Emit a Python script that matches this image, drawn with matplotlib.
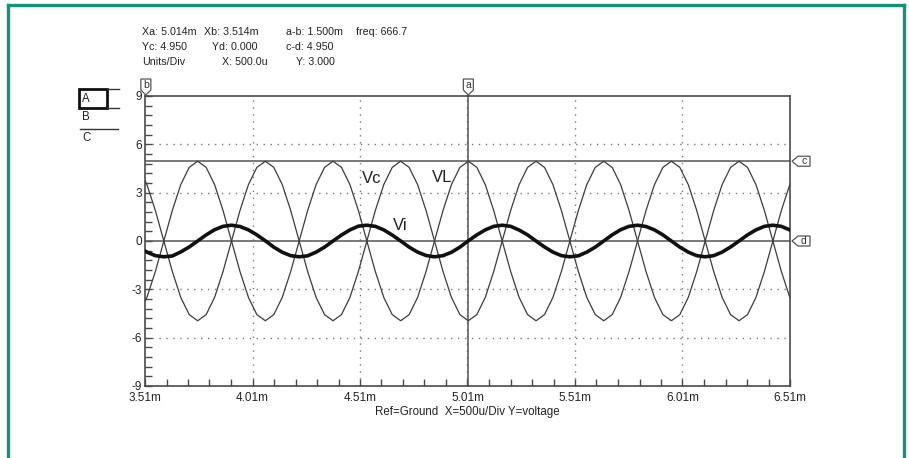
import matplotlib
matplotlib.use('Agg')
import matplotlib.pyplot as plt
from matplotlib.patches import Polygon, Rectangle
from matplotlib.lines import Line2D
from matplotlib.ticker import MultipleLocator

plt.rcParams['font.family'] = ['Liberation Sans', 'DejaVu Sans']

# sample times (ms)
t_ms = [3.4796, 3.5189, 3.5583, 3.5976, 3.6370, 3.6763, 3.7157, 3.7550,
        3.7944, 3.8337, 3.8730, 3.9124, 3.9517, 3.9911, 4.0304, 4.0698,
        4.1091, 4.1484, 4.1878, 4.2271, 4.2665, 4.3058, 4.3452, 4.3845,
        4.4239, 4.4632, 4.5025, 4.5419, 4.5812, 4.6206, 4.6599, 4.6993,
        4.7386, 4.7779, 4.8173, 4.8566, 4.8960, 4.9353, 4.9747, 5.0140,
        5.0534, 5.0927, 5.1320, 5.1714, 5.2107, 5.2501, 5.2894, 5.3288,
        5.3681, 5.4074, 5.4468, 5.4861, 5.5255, 5.5648, 5.6042, 5.6435,
        5.6829, 5.7222, 5.7615, 5.8009, 5.8402, 5.8796, 5.9189, 5.9583,
        5.9976, 6.0369, 6.0763, 6.1156, 6.1550, 6.1943, 6.2337, 6.2730,
        6.3124, 6.3517, 6.3910, 6.4304, 6.4697, 6.5091, 6.5484]

v_l = [-4.57, -3.50, -1.89, 0.00, 1.89, 3.50, 4.57, 4.95, 4.57, 3.50, 1.89, 0.00, -1.89, -3.50, -4.57, -4.95,
       -4.57, -3.50, -1.89, 0.00, 1.89, 3.50, 4.57, 4.95, 4.57, 3.50, 1.89, 0.00, -1.89, -3.50, -4.57, -4.95,
       -4.57, -3.50, -1.89, 0.00, 1.89, 3.50, 4.57, 4.95, 4.57, 3.50, 1.89, 0.00, -1.89, -3.50, -4.57, -4.95,
       -4.57, -3.50, -1.89, 0.00, 1.89, 3.50, 4.57, 4.95, 4.57, 3.50, 1.89, 0.00, -1.89, -3.50, -4.57, -4.95,
       -4.57, -3.50, -1.89, 0.00, 1.89, 3.50, 4.57, 4.95, 4.57, 3.50, 1.89, 0.00, -1.89, -3.50, -4.57]

v_c = [4.57, 3.50, 1.89, 0.00, -1.89, -3.50, -4.57, -4.95, -4.57, -3.50, -1.89, 0.00, 1.89, 3.50, 4.57, 4.95,
       4.57, 3.50, 1.89, 0.00, -1.89, -3.50, -4.57, -4.95, -4.57, -3.50, -1.89, 0.00, 1.89, 3.50, 4.57, 4.95,
       4.57, 3.50, 1.89, 0.00, -1.89, -3.50, -4.57, -4.95, -4.57, -3.50, -1.89, 0.00, 1.89, 3.50, 4.57, 4.95,
       4.57, 3.50, 1.89, 0.00, -1.89, -3.50, -4.57, -4.95, -4.57, -3.50, -1.89, 0.00, 1.89, 3.50, 4.57, 4.95,
       4.57, 3.50, 1.89, 0.00, -1.89, -3.50, -4.57, -4.95, -4.57, -3.50, -1.89, 0.00, 1.89, 3.50, 4.57]

v_i = [-0.38, -0.69, -0.91, -0.98, -0.93, -0.68, -0.37, 0.00, 0.38, 0.70, 0.91, 0.98, 0.90, 0.69, 0.38, 0.01,
       -0.38, -0.70, -0.91, -0.98, -0.92, -0.69, -0.38, 0.00, 0.37, 0.69, 0.92, 0.98, 0.91, 0.69, 0.37, 0.00,
       -0.38, -0.69, -0.90, -0.98, -0.91, -0.70, -0.38, 0.01, 0.38, 0.69, 0.91, 0.98, 0.91, 0.68, 0.38, 0.00,
       -0.37, -0.69, -0.91, -0.98, -0.92, -0.69, -0.38, 0.00, 0.38, 0.70, 0.91, 0.98, 0.90, 0.69, 0.38, 0.00,
       -0.38, -0.69, -0.91, -0.98, -0.91, -0.69, -0.37, 0.00, 0.38, 0.69, 0.91, 0.98, 0.91, 0.69, 0.38]

x_ticks = [3.51, 4.01, 4.51, 5.01, 5.51, 6.01, 6.51]
x_tick_labels = ['3.51m', '4.01m', '4.51m', '5.01m', '5.51m', '6.01m', '6.51m']
y_ticks = [-9, -6, -3, 0, 3, 6, 9]
y_tick_labels = ['-9', '-6', '-3', '0', '3', '6', '9']

cursor_a = 5.014
cursor_b = 3.514
cursor_c = 4.950
cursor_d = 0.000

W, H = 909, 458
GREEN = '#119477'
TRACE = '#3c3c3c'
FRAME = '#4a4a4a'
TXT = '#222222'

fig = plt.figure(figsize=(W / 100, H / 100), dpi=100)
ax = fig.add_axes([145 / W, 1 - 386 / H, 645 / W, 290 / H])
ax.set_xlim(3.51, 6.51)
ax.set_ylim(-9, 9)


def px(x, y):
    # pixel position (top-left origin) -> figure fraction
    return x / W, 1 - y / H


# dotted grid
for xv in x_ticks[1:-1]:
    ax.axvline(xv, color='#777777', lw=1.0, ls=(0, (1, 4)), zorder=1)
for yv in y_ticks[1:-1]:
    if yv != 0:
        ax.axhline(yv, color='#777777', lw=1.0, ls=(0, (1, 4)), zorder=1)

# cursor lines
ax.axhline(cursor_c, color='#555555', lw=1.1, zorder=2)
ax.axhline(cursor_d, color='#555555', lw=1.1, zorder=2)
ax.plot([cursor_a, cursor_a], [0, 1.03], color='#555555', lw=1.1,
        transform=ax.get_xaxis_transform(), clip_on=False, zorder=2)

# traces
ax.plot(t_ms, v_c, color=TRACE, lw=0.9, zorder=3)
ax.plot(t_ms, v_l, color=TRACE, lw=0.9, zorder=3)
ax.plot(t_ms, v_i, color='#111111', lw=2.6, zorder=4)

ax.text(4.518, 3.85, 'Vc', fontsize=12, color=TXT, va='center', ha='left', zorder=5)
ax.text(4.843, 3.97, 'VL', fontsize=12, color=TXT, va='center', ha='left', zorder=5)
ax.text(4.662, 0.98, 'Vi', fontsize=12, color=TXT, va='center', ha='left', zorder=5)

# axes styling
for s in ax.spines.values():
    s.set_color(FRAME)
    s.set_linewidth(1.2)
ax.set_xticks(x_ticks)
ax.set_xticklabels(x_tick_labels)
ax.set_yticks(y_ticks)
ax.set_yticklabels(y_tick_labels)
ax.xaxis.set_minor_locator(MultipleLocator(0.1, offset=0.01))
ax.yaxis.set_minor_locator(MultipleLocator(0.6))
ax.tick_params(which='both', direction='in', color=FRAME, width=1.0,
               labelsize=8.5, labelcolor=TXT)
ax.tick_params(which='major', length=5)
ax.tick_params(which='minor', length=5)
ax.tick_params(axis='x', pad=4)
ax.tick_params(axis='y', pad=2)
ax.set_xlabel('Ref=Ground  X=500u/Div Y=voltage', fontsize=8.3, color=TXT, labelpad=2)

# cursor tags
fig.canvas.draw()


def data_px(x, y):
    dx, dy = ax.transData.transform((x, y))
    return dx, H - dy


def top_tag(xd, letter):
    cx, cy = data_px(xd, 9)
    cy = cy - 1
    pts = [(cx, cy), (cx - 5, cy - 5), (cx - 5, cy - 16), (cx + 5, cy - 16), (cx + 5, cy - 5)]
    fig.add_artist(Polygon([px(*p) for p in pts], closed=True, transform=fig.transFigure,
                           facecolor='white', edgecolor='#555555', lw=0.9))
    fig.text(*px(cx, cy - 10), letter, fontsize=7.5, ha='center', va='center', color='#333333')


def right_tag(yd, letter):
    cx, cy = data_px(6.51, yd)
    cx = cx + 2
    pts = [(cx, cy), (cx + 6, cy - 5), (cx + 18, cy - 5), (cx + 18, cy + 5), (cx + 6, cy + 5)]
    fig.add_artist(Polygon([px(*p) for p in pts], closed=True, transform=fig.transFigure,
                           facecolor='white', edgecolor='#555555', lw=0.9))
    fig.text(*px(cx + 12, cy), letter, fontsize=7.5, ha='center', va='center', color='#333333')


top_tag(cursor_b, 'b')
top_tag(cursor_a, 'a')
right_tag(cursor_c, 'c')
right_tag(cursor_d, 'd')

# readout
info = [
    (141.7, 32, f'Xa: {cursor_a:.3f}m'), (204, 32, f'Xb: {cursor_b:.3f}m'),
    (286, 32, f'a-b: {cursor_a - cursor_b:.3f}m'), (356, 32, f'freq: {1 / (cursor_a - cursor_b) * 1000:.1f}'),
    (141.7, 47, f'Yc: {cursor_c:.3f}'), (211.7, 47, f'Yd: {cursor_d:.3f}'),
    (286, 47, f'c-d: {cursor_c - cursor_d:.3f}'),
    (141.7, 62, 'Units/Div'), (221.7, 62, 'X: 500.0u'), (296, 62, 'Y: 3.000'),
]
for x, y, s in info:
    fig.text(*px(x, y), s, fontsize=7.7, ha='left', va='center', color=TXT)

# channel selector A / B / C
fig.add_artist(Rectangle(px(79, 108), 28 / W, 19 / H, transform=fig.transFigure,
                         fill=False, edgecolor='#111111', lw=2.0))
fig.add_artist(Line2D([px(107, 0)[0], px(119, 0)[0]], [px(0, 89)[1]] * 2,
                      transform=fig.transFigure, color='#333333', lw=1.0))
fig.add_artist(Line2D([px(107, 0)[0], px(119, 0)[0]], [px(0, 108)[1]] * 2,
                      transform=fig.transFigure, color='#333333', lw=1.0))
fig.add_artist(Line2D([px(80, 0)[0], px(118, 0)[0]], [px(0, 129)[1]] * 2,
                      transform=fig.transFigure, color='#333333', lw=1.0))
for y, s in [(99, 'A'), (117, 'B'), (138, 'C')]:
    fig.text(*px(82, y), s, fontsize=8.3, ha='left', va='center', color=TXT)

# green frame
for xs, ys in [([8, 8], [5, 458]), ([8, 904], [5, 5]), ([904, 904], [5, 458])]:
    fig.add_artist(Line2D([px(x, 0)[0] for x in xs], [px(0, y)[1] for y in ys],
                          transform=fig.transFigure, color=GREEN, lw=2.4,
                          solid_capstyle='projecting'))

fig.savefig('out.png', dpi=100)
